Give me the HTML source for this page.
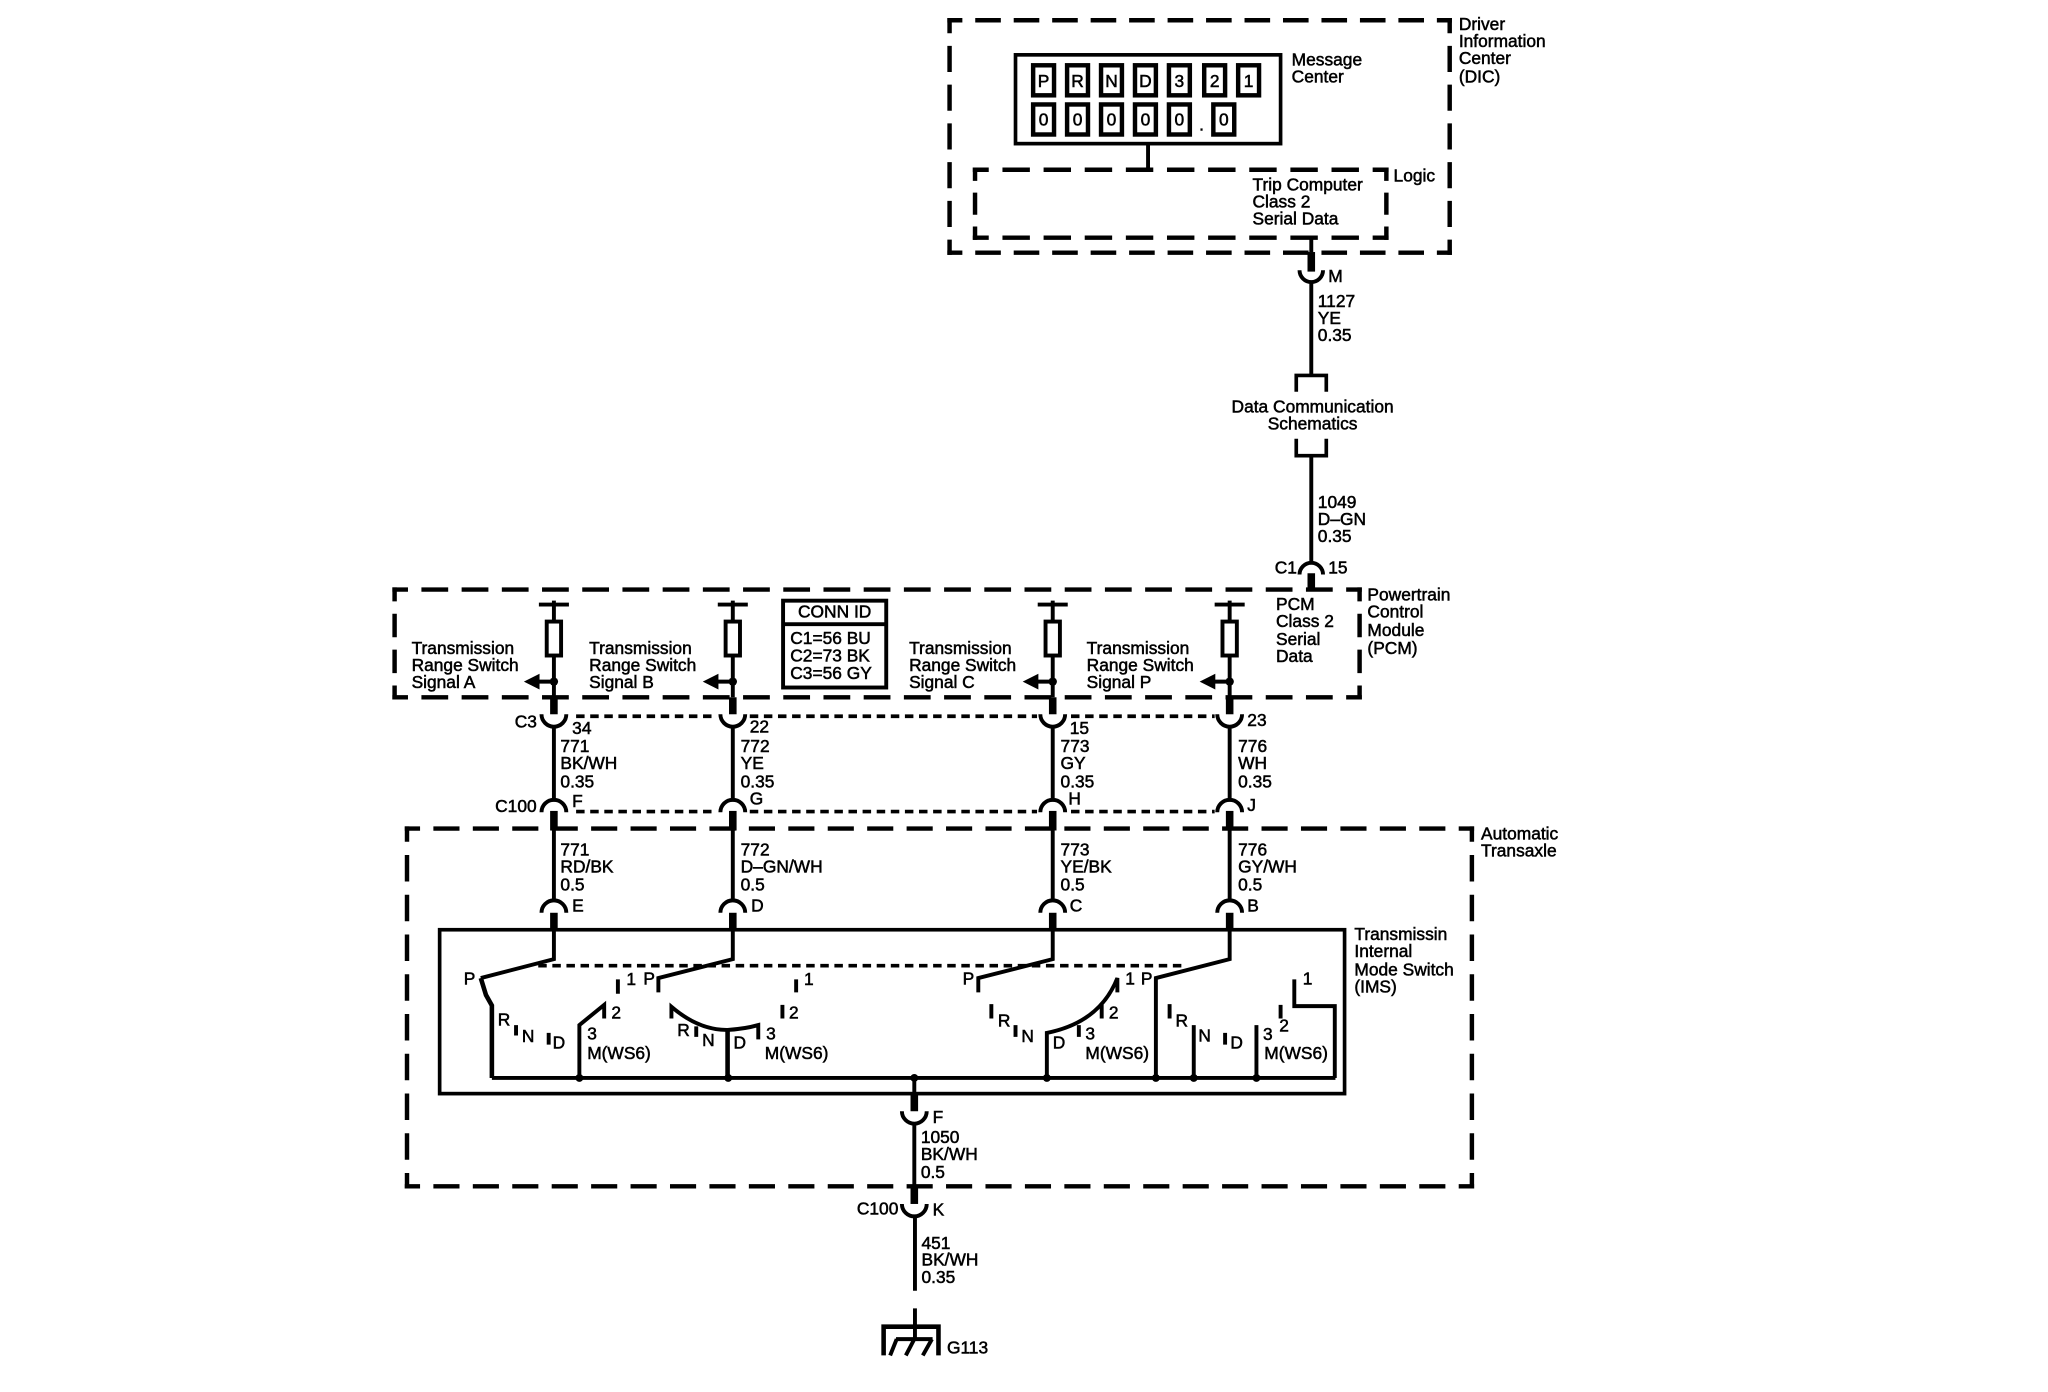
<!DOCTYPE html>
<html><head><meta charset="utf-8"><title>Transmission range schematic</title>
<style>
html,body{margin:0;padding:0;background:#fff}
svg{display:block;width:2048px;height:1392px}
text{font-family:"Liberation Sans",Arial,sans-serif;font-size:13.3px;fill:#000;stroke:#000;stroke-width:.4}
.w{stroke:#000;stroke-width:3;fill:none}
.t{stroke:#000;stroke-width:5.8;fill:none}
.b{stroke:#000;stroke-width:2.8;fill:none}
.k{stroke:#000;stroke-width:3.4;fill:none}
.s{stroke:#000;stroke-width:2.8;fill:none;stroke-dasharray:6.5 4.300}
.c{stroke:#000;stroke-width:3;fill:none}
.dh,.dv,.lh,.lv,.ph,.pv,.th,.tv{stroke:#000;stroke-width:3.4;fill:none}
.dh{stroke-dasharray:19.6 9.86;stroke-dashoffset:8.1}
.dv{stroke-dasharray:20 9.67;stroke-dashoffset:8.3}
.lh{stroke-dasharray:21 10.5;stroke-dashoffset:8.8}
.lv{stroke-dasharray:17 9;stroke-dashoffset:6.8}
.ph{stroke-dasharray:20.5 10.29;stroke-dashoffset:8.55}
.pv{stroke-dasharray:18 9.5;stroke-dashoffset:7.3}
.th{stroke-dasharray:20 10.2;stroke-dashoffset:8.3}
.tv{stroke-dasharray:20.3 10.14;stroke-dashoffset:8.45}
</style></head><body>
<svg viewBox="0 0 1568 1066" xmlns="http://www.w3.org/2000/svg">
<rect width="1568" height="1066" fill="#fff"/>
<!-- DIC -->
<path class="dh" d="M725.300 15.500H1111.700M725.300 193.500H1111.700"/><path class="dv" d="M727 13.800V195.200M1110 13.800V195.200"/>
<rect class="b" x="777.500" y="42" width="203" height="68"/>
<rect class="k" x="791" y="50" width="16" height="23"/><rect class="k" x="817" y="50" width="16" height="23"/><rect class="k" x="843" y="50" width="16" height="23"/><rect class="k" x="869" y="50" width="16" height="23"/><rect class="k" x="895" y="50" width="16" height="23"/><rect class="k" x="922" y="50" width="16" height="23"/><rect class="k" x="948" y="50" width="16" height="23"/>
<rect class="k" x="791" y="80" width="16" height="23"/><rect class="k" x="817" y="80" width="16" height="23"/><rect class="k" x="843" y="80" width="16" height="23"/><rect class="k" x="869" y="80" width="16" height="23"/><rect class="k" x="895" y="80" width="16" height="23"/><rect class="k" x="929" y="80" width="16" height="23"/>
<g text-anchor="middle">
<text x="799" y="66.500">P</text><text x="825" y="66.500">R</text><text x="851" y="66.500">N</text><text x="877" y="66.500">D</text><text x="903" y="66.500">3</text><text x="930" y="66.500">2</text><text x="956" y="66.500">1</text>
<text x="799" y="96">0</text><text x="825" y="96">0</text><text x="851" y="96">0</text><text x="877" y="96">0</text><text x="903" y="96">0</text><text x="920" y="100">.</text><text x="937" y="96">0</text>
</g>
<path class="w" d="M879 110V130"/>
<path class="lh" d="M744.800 130H1063.200M744.800 182H1063.200"/><path class="lv" d="M746.500 128.300V183.700M1061.500 128.300V183.700"/>
<text x="989" y="50">Message</text><text x="989" y="63">Center</text>
<text x="1117" y="23">Driver</text><text x="1117" y="36">Information</text><text x="1117" y="49">Center</text><text x="1117" y="63">(DIC)</text>
<text x="1067" y="139">Logic</text>
<text x="959" y="146">Trip Computer</text><text x="959" y="159">Class 2</text><text x="959" y="172">Serial Data</text>
<!-- M to PCM -->
<path class="w" d="M1004 182V193"/><path class="t" d="M1004 193V208"/>
<path class="c" d="M995 207A9 9 0 0 0 1013 207"/>
<path class="w" d="M1004 216V288"/>
<path class="b" d="M992.500 300V287.500H1015.500V300"/>
<path class="b" d="M992.500 336V349H1015.500V336"/>
<path class="w" d="M1004 349V431"/>
<path class="c" d="M995 440A9 9 0 0 1 1013 440"/>
<path class="t" d="M1004 439V452"/>
<text x="1017" y="216">M</text>
<text x="1009" y="235">1127</text><text x="1009" y="248">YE</text><text x="1009" y="261">0.35</text>
<text x="1005" y="316" text-anchor="middle">Data Communication</text><text x="1005" y="329" text-anchor="middle">Schematics</text>
<text x="1009" y="389">1049</text><text x="1009" y="402">D–GN</text><text x="1009" y="415">0.35</text>
<text x="976" y="439">C1</text><text x="1017" y="439">15</text>
<!-- PCM -->
<path class="ph" d="M300.300 451.500H1042.700M300.300 534H1042.700"/><path class="pv" d="M302 449.800V535.700M1041 449.800V535.700"/>
<text x="1047" y="460">Powertrain</text><text x="1047" y="473">Control</text><text x="1047" y="487">Module</text><text x="1047" y="501">(PCM)</text>
<text x="977" y="467">PCM</text><text x="977" y="480">Class 2</text><text x="977" y="494">Serial</text><text x="977" y="507">Data</text>
<rect class="c" x="599.500" y="460" width="79" height="66.500"/><path class="c" d="M599 478H679"/>
<text x="639" y="473" text-anchor="middle">CONN ID</text>
<text x="605" y="493">C1=56 BU</text><text x="605" y="506.500">C2=73 BK</text><text x="605" y="520">C3=56 GY</text>
<text x="315" y="501">Transmission</text><text x="315" y="514">Range Switch</text><text x="315" y="527">Signal A</text>
<text x="451" y="501">Transmission</text><text x="451" y="514">Range Switch</text><text x="451" y="527">Signal B</text>
<text x="696" y="501">Transmission</text><text x="696" y="514">Range Switch</text><text x="696" y="527">Signal C</text>
<text x="832" y="501">Transmission</text><text x="832" y="514">Range Switch</text><text x="832" y="527">Signal P</text>
<!-- columns -->
<path class="w" d="M424 460V476M424 503V534M424 522H412"/><path class="c" d="M412.500 463H435.500"/><rect class="c" x="418.500" y="476" width="11" height="26"/><circle cx="424" cy="522" r="3.200"/><path d="M401 522L413 516V528Z"/><path class="t" d="M424 534V547"/>
<path class="c" d="M414.500 547A9.500 9.500 0 0 0 433.500 547"/><path class="w" d="M424 556V614"/><path class="c" d="M414.500 622A9.500 9.500 0 0 1 433.500 622"/><path class="t" d="M424 621V636"/><path class="w" d="M424 636V690"/><path class="c" d="M414.500 699A9.500 9.500 0 0 1 433.500 699"/><path class="t" d="M424 699V712"/>
<path class="w" d="M561 460V476M561 503V534M561 522H549"/><path class="c" d="M549.500 463H572.500"/><rect class="c" x="555.500" y="476" width="11" height="26"/><circle cx="561" cy="522" r="3.200"/><path d="M538 522L550 516V528Z"/><path class="t" d="M561 534V547"/>
<path class="c" d="M551.500 547A9.500 9.500 0 0 0 570.500 547"/><path class="w" d="M561 556V614"/><path class="c" d="M551.500 622A9.500 9.500 0 0 1 570.500 622"/><path class="t" d="M561 621V636"/><path class="w" d="M561 636V690"/><path class="c" d="M551.500 699A9.500 9.500 0 0 1 570.500 699"/><path class="t" d="M561 699V712"/>
<path class="w" d="M806 460V476M806 503V534M806 522H794"/><path class="c" d="M794.500 463H817.500"/><rect class="c" x="800.500" y="476" width="11" height="26"/><circle cx="806" cy="522" r="3.200"/><path d="M783 522L795 516V528Z"/><path class="t" d="M806 534V547"/>
<path class="c" d="M796.500 547A9.500 9.500 0 0 0 815.500 547"/><path class="w" d="M806 556V614"/><path class="c" d="M796.500 622A9.500 9.500 0 0 1 815.500 622"/><path class="t" d="M806 621V636"/><path class="w" d="M806 636V690"/><path class="c" d="M796.500 699A9.500 9.500 0 0 1 815.500 699"/><path class="t" d="M806 699V712"/>
<path class="w" d="M941.500 460V476M941.500 503V534M941.500 522H929"/><path class="c" d="M930 463H953"/><rect class="c" x="936" y="476" width="11" height="26"/><circle cx="941.500" cy="522" r="3.200"/><path d="M918.500 522L930.500 516V528Z"/><path class="t" d="M941.500 534V547"/>
<path class="c" d="M932 547A9.500 9.500 0 0 0 951 547"/><path class="w" d="M941.500 556V614"/><path class="c" d="M932 622A9.500 9.500 0 0 1 951 622"/><path class="t" d="M941.500 621V636"/><path class="w" d="M941.500 636V690"/><path class="c" d="M932 699A9.500 9.500 0 0 1 951 699"/><path class="t" d="M941.500 699V712"/>
<path class="s" d="M441 548.500H549M574 548.500H794M820 548.500H930"/><path class="s" d="M441 621.500H549M574 621.500H794M820 621.500H930"/>
<text x="394" y="557">C3</text><text x="438" y="562">34</text><text x="574" y="561">22</text><text x="819" y="562">15</text><text x="955" y="556">23</text>
<text x="429" y="576">771</text><text x="429" y="589">BK/WH</text><text x="429" y="603">0.35</text>
<text x="567" y="576">772</text><text x="567" y="589">YE</text><text x="567" y="603">0.35</text>
<text x="812" y="576">773</text><text x="812" y="589">GY</text><text x="812" y="603">0.35</text>
<text x="948" y="576">776</text><text x="948" y="589">WH</text><text x="948" y="603">0.35</text>
<text x="379" y="622">C100</text><text x="438" y="618">F</text><text x="574" y="616">G</text><text x="818" y="616">H</text><text x="955" y="621">J</text>
<text x="429" y="655">771</text><text x="429" y="668">RD/BK</text><text x="429" y="682">0.5</text>
<text x="567" y="655">772</text><text x="567" y="668">D–GN/WH</text><text x="567" y="682">0.5</text>
<text x="812" y="655">773</text><text x="812" y="668">YE/BK</text><text x="812" y="682">0.5</text>
<text x="948" y="655">776</text><text x="948" y="668">GY/WH</text><text x="948" y="682">0.5</text>
<text x="438" y="698">E</text><text x="575" y="698">D</text><text x="819" y="698">C</text><text x="955" y="698">B</text>
<!-- Transaxle -->
<path class="th" d="M309.800 634.500H1128.700M309.800 908.500H1128.700"/><path class="tv" d="M311.500 632.800V910.200M1127 632.800V910.200"/>
<text x="1134" y="643">Automatic</text><text x="1134" y="656">Transaxle</text>
<!-- IMS -->
<rect class="b" x="336.500" y="712" width="693" height="125.500"/>
<text x="1037" y="720">Transmissin</text><text x="1037" y="733">Internal</text><text x="1037" y="747">Mode Switch</text><text x="1037" y="760">(IMS)</text>
<path class="w" d="M376.500 825.500H1022.500"/>
<path class="s" d="M412 739.500H905"/>
<!-- switch 1 -->
<path class="w" d="M424 712V734.500L368 749"/><path class="w" style="stroke-width:3.500" d="M368 749L372 762L376.500 770V825.500"/>
<path class="w" d="M443.500 825.500V785L462.500 769.500V780"/><path class="w" d="M395 785V793M420 791V800M473 750V761"/>
<circle cx="443.500" cy="825.500" r="3"/>
<text x="355" y="754">P</text><text x="381" y="785.500">R</text><text x="399.500" y="798">N</text><text x="423" y="803">D</text><text x="449.500" y="796">3</text><text x="449.500" y="811">M(WS6)</text><text x="468" y="780">2</text><text x="479.500" y="754.500">1</text>
<!-- switch 2 -->
<path class="w" d="M561 712V734.500L504 749V760"/>
<path class="w" d="M514 780V771Q535 789 557 788.700Q570 788 580.500 785V796"/><path class="w" style="stroke-width:3.500" d="M557 788.700V825.500"/>
<path class="w" d="M533 786V794M609.500 750V760M599 769.500V780"/>
<circle cx="557.500" cy="825.500" r="3"/>
<text x="492.500" y="754">P</text><text x="518.500" y="793.500">R</text><text x="537.500" y="801">N</text><text x="561.500" y="803">D</text><text x="586.500" y="796">3</text><text x="585.500" y="811">M(WS6)</text><text x="604" y="780">2</text><text x="615.500" y="754.500">1</text>
<!-- switch 3 -->
<path class="w" d="M806 712V734.500L749 749V760"/>
<path class="w" d="M801.500 825.500V791Q842 783 855.500 749V760"/>
<path class="w" d="M759 769V780M777.500 785V794M826 785V794M843.500 769.500V780"/>
<circle cx="801.500" cy="825.500" r="3"/>
<text x="737" y="754">P</text><text x="764" y="786">R</text><text x="782" y="798">N</text><text x="806" y="803">D</text><text x="831" y="796">3</text><text x="831" y="811">M(WS6)</text><text x="849" y="780">2</text><text x="861.500" y="754">1</text>
<!-- switch 4 -->
<path class="w" d="M941.500 712V734.500L885 749V825.500"/>
<path class="w" d="M914 785V825.500M962 785V825.500M895.500 769V780M938 791V800M980.500 769.500V780"/>
<path class="w" d="M991 750V770.500H1022V825.500"/>
<circle cx="885" cy="825.500" r="3"/><circle cx="914" cy="825.500" r="3"/><circle cx="962" cy="825.500" r="3"/>
<text x="873.500" y="754">P</text><text x="900" y="786">R</text><text x="917.500" y="797.500">N</text><text x="942" y="803">D</text><text x="967" y="796.500">3</text><text x="968" y="811">M(WS6)</text><text x="979.500" y="790">2</text><text x="997.500" y="754">1</text>
<!-- ground run -->
<circle cx="700" cy="825.500" r="3"/>
<path class="w" d="M700 825.500V838"/><path class="t" d="M700 838V851"/>
<path class="c" d="M690.500 851A9.500 9.500 0 0 0 709.500 851"/>
<path class="w" d="M700 860V909"/><path class="t" d="M700 908V922"/>
<path class="c" d="M690.500 922A9.500 9.500 0 0 0 709.500 922"/>
<path class="w" d="M700.500 931V988.500M700.500 1002V1025"/>
<path class="c" d="M676.500 1038V1016H718.500V1038" style="stroke-width:3.500"/>
<path class="c" d="M686 1025.500H714M686.500 1025.500L681.500 1038M700 1025.500L693.500 1038M713.500 1025.500L706.500 1038"/>
<text x="714" y="860">F</text>
<text x="705" y="875.500">1050</text><text x="705" y="888.500">BK/WH</text><text x="705" y="902">0.5</text>
<text x="656" y="930">C100</text><text x="714" y="931">K</text>
<text x="705.500" y="956.500">451</text><text x="705.500" y="969">BK/WH</text><text x="705.500" y="982.500">0.35</text>
<text x="725" y="1036.500">G113</text>
</svg>
</body></html>
